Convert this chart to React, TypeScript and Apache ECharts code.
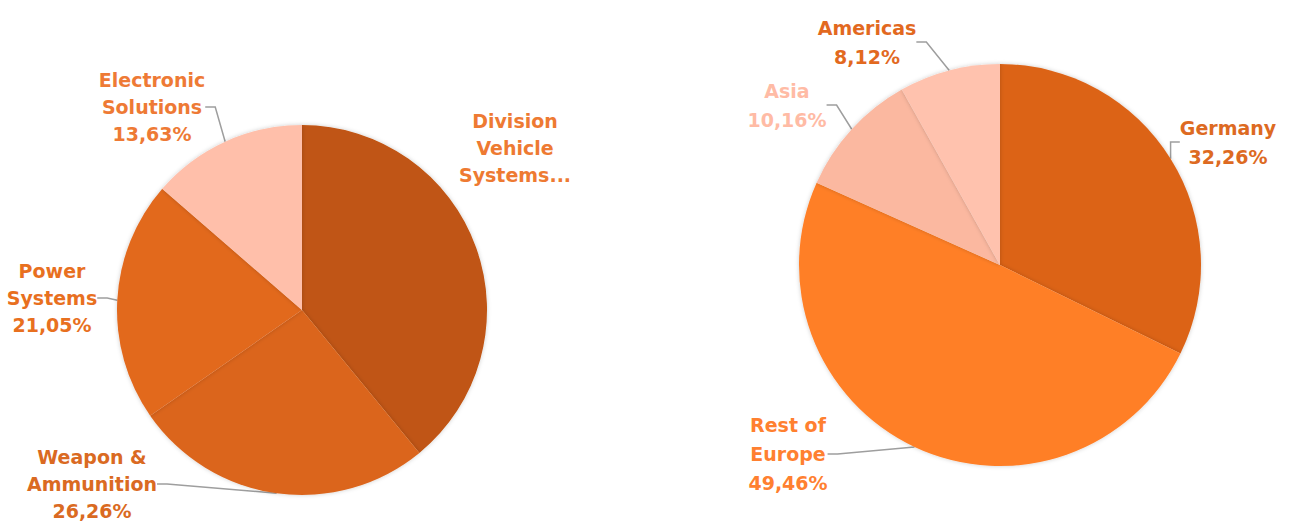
import React, { useEffect, useRef } from "react";
import * as echarts from "echarts";

const divisionNames = ["Division Vehicle Systems", "Weapon & Ammunition", "Power Systems", "Electronic Solutions"];
const divisionValues = [39.06, 26.26, 21.05, 13.63];
const divisionLabels = ["Division\nVehicle\nSystems...", "Weapon &\nAmmunition\n26,26%", "Power\nSystems\n21,05%", "Electronic\nSolutions\n13,63%"];
const divisionColors = ["#C05412", "#DB651C", "#E2691E", "#FFBFAA"];
const divisionLabelColors = ["#EE7A32", "#DA6A22", "#E8701F", "#EE7A35"];
const divisionLabelPos = [[515, 148], [92, 484], [52, 298], [152, 107]];

const regionNames = ["Germany", "Rest of Europe", "Asia", "Americas"];
const regionValues = [32.26, 49.46, 10.16, 8.12];
const regionLabels = ["Germany\n32,26%", "Rest of\nEurope\n49,46%", "Asia\n10,16%", "Americas\n8,12%"];
const regionColors = ["#DC6419", "#FF7F27", "#FBB8A0", "#FFC2AE"];
const regionLabelColors = ["#DD6A22", "#FF8030", "#FFBBA5", "#E2691F"];
const regionLabelPos = [[1228, 142], [788, 454], [787, 105], [867, 42]];

function makeSeries(names: string[], values: number[], labels: string[], colors: string[], labelColors: string[], pos: number[][], center: number[], radius: number, lineH: number) {
  return {
    type: "pie",
    center,
    radius,
    startAngle: 90,
    clockwise: true,
    data: names.map((n, i) => ({
      name: n,
      value: values[i],
      itemStyle: { color: colors[i] },
      label: { formatter: labels[i], color: labelColors[i] },
      labelLine: { show: n !== "Division Vehicle Systems" },
    })),
    itemStyle: { shadowBlur: 4, shadowColor: "rgba(0,0,0,0.2)", borderWidth: 0 },
    label: {
      show: true,
      position: "outside",
      fontFamily: "DejaVu Sans",
      fontWeight: "bold",
      fontSize: 19,
      lineHeight: lineH,
      align: "center",
      overflow: "none",
    },
    labelLine: { show: true, lineStyle: { color: "#9E9E9E", width: 1.5 }, length: 10, length2: 10 },
    labelLayout: (p: any) => ({
      x: pos[p.dataIndex][0],
      y: pos[p.dataIndex][1],
      align: "center",
      verticalAlign: "middle",
    }),
  };
}

export default function App() {
  const ref = useRef<HTMLDivElement>(null);
  useEffect(() => {
    const chart = echarts.init(ref.current!, undefined, { renderer: "svg" });
    chart.setOption({
      animation: false,
      backgroundColor: "#FFFFFF",
      series: [
        makeSeries(divisionNames, divisionValues, divisionLabels, divisionColors, divisionLabelColors, divisionLabelPos, [302, 310], 185, 27),
        makeSeries(regionNames, regionValues, regionLabels, regionColors, regionLabelColors, regionLabelPos, [1000, 265], 201, 29),
      ],
    });
    return () => chart.dispose();
  }, []);
  return <div ref={ref} style={{ position: "fixed", left: 0, top: 0, width: 1299, height: 523 }} />;
}
